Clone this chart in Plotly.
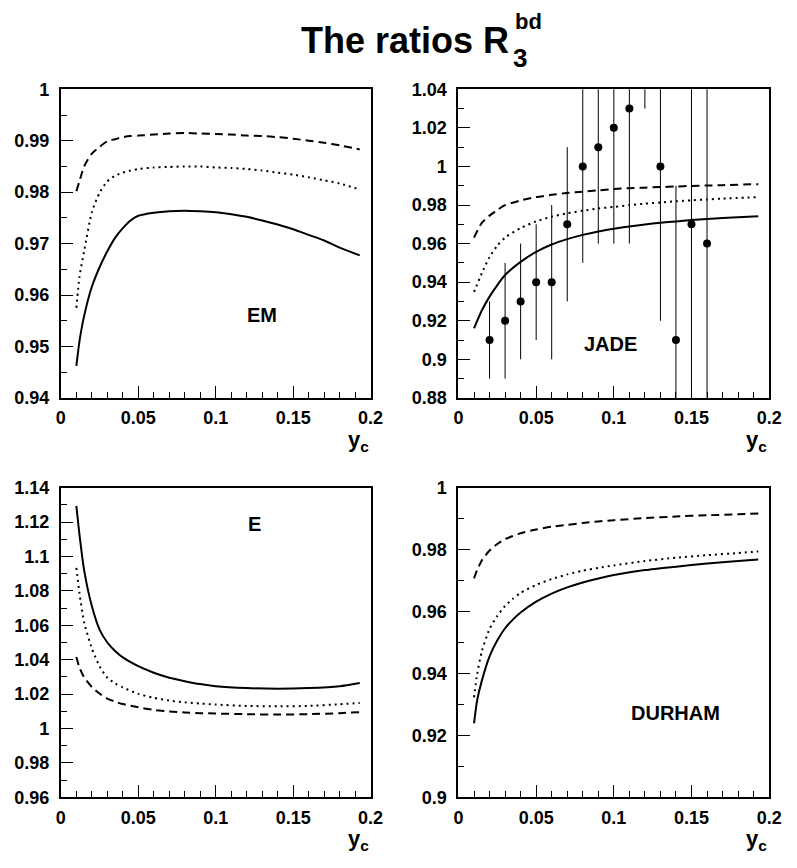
import plotly.graph_objects as go

# ---------------- data ----------------
# EM
em_x = [0.01, 0.012, 0.015, 0.02, 0.025, 0.03, 0.035, 0.04, 0.045, 0.05, 0.06, 0.07, 0.08, 0.09,
        0.10, 0.11, 0.12, 0.13, 0.14, 0.15, 0.16, 0.17, 0.18, 0.193]
em_solid = [0.9462, 0.9510, 0.9559, 0.9616, 0.9654, 0.9685, 0.9711, 0.9730, 0.9745, 0.9754, 0.9760,
            0.9763, 0.9764, 0.9763, 0.9761, 0.9757, 0.9752, 0.9745, 0.9737, 0.9728, 0.9717, 0.9706,
            0.9692, 0.9677]
em_dot = [0.9575, 0.9635, 0.9685, 0.9761, 0.9799, 0.9821, 0.9832, 0.9838, 0.9842, 0.9845, 0.9848,
          0.9849, 0.9850, 0.9850, 0.9848, 0.9847, 0.9845, 0.9842, 0.9838, 0.9834, 0.9829, 0.9823,
          0.9817, 0.9805]
em_dash = [0.9802, 0.9821, 0.9850, 0.9875, 0.9888, 0.9899, 0.9903, 0.9907, 0.9909, 0.9910, 0.9912,
           0.9914, 0.9915, 0.9914, 0.9913, 0.9912, 0.9910, 0.9909, 0.9907, 0.9904, 0.9900, 0.9896,
           0.9891, 0.9883]

# JADE
jd_x = [0.01, 0.015, 0.02, 0.025, 0.03, 0.04, 0.05, 0.06, 0.07, 0.08, 0.09, 0.10, 0.11, 0.12,
        0.13, 0.14, 0.15, 0.16, 0.17, 0.193]
jd_solid = [0.9161, 0.9253, 0.9325, 0.9385, 0.9437, 0.9505, 0.9557, 0.9595, 0.9623, 0.9645, 0.9663,
            0.9677, 0.9689, 0.9699, 0.9708, 0.9715, 0.9722, 0.9727, 0.9732, 0.9742]
jd_dot = [0.9349, 0.9446, 0.9530, 0.9589, 0.9631, 0.9681, 0.9715, 0.9740, 0.9757, 0.9770, 0.9782,
          0.9790, 0.9799, 0.9807, 0.9813, 0.9819, 0.9824, 0.9829, 0.9833, 0.9841]
jd_dash = [0.9631, 0.9707, 0.9745, 0.9774, 0.9799, 0.9824, 0.9841, 0.9853, 0.9862, 0.9869, 0.9876,
           0.9883, 0.9887, 0.9890, 0.9893, 0.9896, 0.9899, 0.9901, 0.9903, 0.9908]
jd_data_x = [0.02, 0.03, 0.04, 0.05, 0.06, 0.07, 0.08, 0.09, 0.10, 0.11, 0.12, 0.13, 0.14, 0.15, 0.16]
jd_data_y = [0.91, 0.92, 0.93, 0.94, 0.94, 0.97, 1.00, 1.01, 1.02, 1.03, 1.09, 1.00, 0.91, 0.97, 0.96]
jd_data_err = [0.02, 0.03, 0.03, 0.03, 0.04, 0.04, 0.05, 0.05, 0.06, 0.07, 0.06, 0.08, 0.08, 0.10, 0.10]

# E
e_x = [0.01, 0.012, 0.015, 0.02, 0.025, 0.03, 0.035, 0.04, 0.05, 0.06, 0.07, 0.08, 0.09, 0.10,
       0.12, 0.14, 0.16, 0.18, 0.193]
e_solid = [1.1294, 1.1129, 1.0921, 1.0712, 1.0575, 1.0500, 1.0450, 1.0413, 1.0362, 1.0324, 1.0295,
           1.0275, 1.0258, 1.0246, 1.0235, 1.0231, 1.0235, 1.0246, 1.0265]
e_dot = [1.0934, 1.0788, 1.0617, 1.0466, 1.0362, 1.0295, 1.0262, 1.0239, 1.0201, 1.0178, 1.0163,
         1.0152, 1.0145, 1.0139, 1.0131, 1.0129, 1.0131, 1.0141, 1.0148]
e_dash = [1.0415, 1.0354, 1.0297, 1.0241, 1.0203, 1.0174, 1.0156, 1.0142, 1.0123, 1.0108, 1.0099,
          1.0093, 1.0089, 1.0087, 1.0083, 1.0081, 1.0083, 1.0089, 1.0095]

# DURHAM
d_x = [0.01, 0.012, 0.015, 0.02, 0.025, 0.03, 0.035, 0.04, 0.05, 0.06, 0.07, 0.08, 0.09, 0.10,
       0.12, 0.14, 0.16, 0.18, 0.193]
d_solid = [0.9239, 0.9313, 0.9376, 0.9455, 0.9507, 0.9546, 0.9574, 0.9597, 0.9632, 0.9658, 0.9678,
           0.9694, 0.9707, 0.9718, 0.9734, 0.9745, 0.9755, 0.9763, 0.9768]
d_dot = [0.9323, 0.9397, 0.9471, 0.9544, 0.9586, 0.9618, 0.9641, 0.9660, 0.9686, 0.9705, 0.9720,
         0.9732, 0.9741, 0.9749, 0.9763, 0.9774, 0.9782, 0.9789, 0.9794]
d_dash = [0.9707, 0.9734, 0.9765, 0.9797, 0.9818, 0.9834, 0.9844, 0.9853, 0.9865, 0.9874, 0.9880,
          0.9886, 0.9891, 0.9895, 0.9902, 0.9907, 0.9911, 0.9914, 0.9917]

panel_names = ["EM", "JADE", "E", "DURHAM"]
y_ranges = [(0.94, 1.0), (0.88, 1.04), (0.96, 1.14), (0.90, 1.0)]
y_dticks = [0.01, 0.02, 0.02, 0.02]
y_minor = [0.005, 0.01, 0.01, 0.01]
label_pos = [(0.130, 0.9561), (0.098, 0.9077), (0.125, 1.119), (0.140, 0.9271)]
title_main = "The ratios R"
title_sub = "3"
title_sup = "bd"
x_title = "y<sub>c</sub>"

# ---------------- figure ----------------
# figure sized so that with the page's default 8px body margin it fills 797x868
OFF = 8
W, H = 797 - 2 * OFF, 868 - 2 * OFF
FONT = "Liberation Sans"


def fx(px):
    return (px - OFF) / W


def fy(py):
    return 1 - (py - OFF) / H


fig = go.Figure()

curves = [
    (em_x, em_solid, em_dot, em_dash),
    (jd_x, jd_solid, jd_dot, jd_dash),
    (e_x, e_solid, e_dot, e_dash),
    (d_x, d_solid, d_dot, d_dash),
]
styles = [("solid", 2.0), ("2px,4px", 2.0), ("8px,5px", 2.0)]

for i, (xs, s, dt, ds) in enumerate(curves):
    ax = "" if i == 0 else str(i + 1)
    for ys, (dash, w) in zip((s, dt, ds), styles):
        fig.add_trace(go.Scatter(x=xs, y=ys, mode="lines", xaxis="x" + ax, yaxis="y" + ax,
                                 line=dict(color="black", width=w, dash=dash, shape="spline",
                                           smoothing=0.6),
                                 showlegend=False, hoverinfo="skip"))

fig.add_trace(go.Scatter(x=jd_data_x, y=jd_data_y, mode="markers", xaxis="x2", yaxis="y2",
                         marker=dict(color="black", size=8),
                         error_y=dict(type="data", array=jd_data_err, visible=True,
                                      color="black", thickness=1, width=0),
                         showlegend=False, hoverinfo="skip", cliponaxis=True))

# target pixel layout of panels (in the 797x868 picture)
px_cols = [(57, 374), (464, 782)]
px_rows = [(81, 397), (489, 806)]

layout = dict(width=W, height=H, margin=dict(l=0, r=0, t=0, b=0),
              paper_bgcolor="white", plot_bgcolor="white", showlegend=False,
              hovermode=False)

annotations = []
for i in range(4):
    r, c = divmod(i, 2)
    x0, x1 = px_cols[c]
    y0, y1 = px_rows[r]
    ax = "" if i == 0 else str(i + 1)
    xdom = [fx(x0), fx(x1)]
    ydom = [fy(y1), fy(y0)]
    lo, hi = y_ranges[i]
    eps = (hi - lo) * 1e-6
    layout["xaxis" + ax] = dict(
        domain=xdom, anchor="y" + ax, range=[0, 0.2], tick0=0, dtick=0.05,
        ticks="inside", ticklen=12, tickwidth=1, tickcolor="black",
        minor=dict(ticks="inside", ticklen=6, dtick=0.01, tickwidth=1, tickcolor="black"),
        showline=True, mirror=True, linecolor="black", linewidth=2,
        showgrid=False, zeroline=False, ticklabelstandoff=3,
        tickfont=dict(family=FONT, size=18, color="black", weight="bold"),
        fixedrange=True,
    )
    layout["yaxis" + ax] = dict(
        domain=ydom, anchor="x" + ax, range=[lo - eps, hi + eps], tick0=lo, dtick=y_dticks[i],
        ticks="inside", ticklen=12, tickwidth=1, tickcolor="black",
        minor=dict(ticks="inside", ticklen=6, dtick=y_minor[i], tickwidth=1, tickcolor="black"),
        showline=True, mirror=True, linecolor="black", linewidth=2,
        showgrid=False, zeroline=False, ticklabelstandoff=6,
        tickfont=dict(family=FONT, size=18, color="black", weight="bold"),
        fixedrange=True,
    )
    lx, ly = label_pos[i]
    annotations.append(dict(text=panel_names[i], x=lx, y=ly, xref="x" + ax, yref="y" + ax,
                            showarrow=False, xanchor="center", yanchor="middle",
                            font=dict(family=FONT, size=20, color="black", weight="bold")))
    annotations.append(dict(text=x_title, x=1, y=0, xref="x" + ax + " domain",
                            yref="y" + ax + " domain", xanchor="right", yanchor="top",
                            yshift=-27, showarrow=False,
                            font=dict(family=FONT, size=22, color="black", weight="bold")))

# title pieces
annotations.append(dict(text=title_main, x=fx(518), y=fy(31.5), xref="paper", yref="paper",
                        xanchor="right", yanchor="middle", showarrow=False,
                        font=dict(family=FONT, size=36, color="black", weight="bold")))
annotations.append(dict(text=title_sub, x=fx(518), y=fy(49), xref="paper", yref="paper",
                        xanchor="left", yanchor="middle", showarrow=False,
                        font=dict(family=FONT, size=26, color="black", weight="bold")))
annotations.append(dict(text=title_sup, x=fx(520), y=fy(12), xref="paper", yref="paper",
                        xanchor="left", yanchor="middle", showarrow=False,
                        font=dict(family=FONT, size=22, color="black", weight="bold")))

layout["annotations"] = annotations
fig.update_layout(**layout)
fig.write_html("out.html", config={"displayModeBar": False, "staticPlot": True})
